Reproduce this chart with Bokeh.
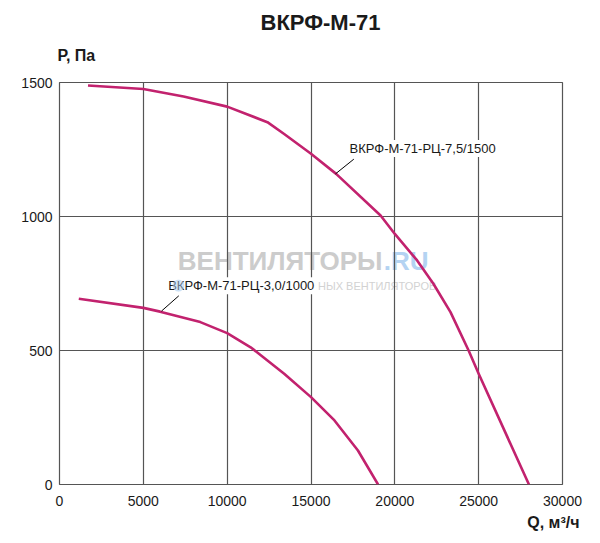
from bokeh.plotting import figure
from bokeh.models import Range1d, Label, FixedTicker, Title
from bokeh.embed import file_html
from bokeh.resources import INLINE

# ---- data ----
title_text = "ВКРФ-М-71"
y_title = "Р, Па"
x_title = "Q, м³/ч"

x_ticks = [0, 5000, 10000, 15000, 20000, 25000, 30000]
y_ticks = [0, 500, 1000, 1500]

big_name = "ВКРФ-М-71-РЦ-7,5/1500"
big_q = [1700, 5000, 7400, 10000, 12400, 13400, 15000, 16500, 19150, 20000, 21330, 22300, 23320, 24400, 25000, 28000]
big_p = [1489, 1476, 1448, 1410, 1352, 1308, 1234, 1159, 1004, 935, 836, 749, 643, 500, 413, 0]

small_name = "ВКРФ-М-71-РЦ-3,0/1000"
small_q = [1150, 5000, 6000, 8400, 10000, 11400, 13400, 15000, 16400, 17800, 19000]
small_p = [693, 659, 645, 606, 565, 512, 413, 326, 239, 127, 0]

# leader lines from curve to label
big_leader_q = [16460, 17555]
big_leader_p = [1159, 1214]
small_leader_q = [6083, 7115]
small_leader_p = [647, 704]

FONT = "Liberation Sans"
CURVE = "#c2226e"
GRID = "#555555"
TXT = "#1a1a1a"

p = figure(width=600, height=543, output_backend="svg", toolbar_location=None,
           x_range=Range1d(0, 30000), y_range=Range1d(0, 1500),
           min_border_left=59, min_border_right=38, min_border_top=82, min_border_bottom=59,
           background_fill_color="white", border_fill_color="white")

for ax, ticks in ((p.xaxis, x_ticks), (p.yaxis, y_ticks)):
    ax.ticker = FixedTicker(ticks=ticks)
    ax.major_tick_in = 0
    ax.major_tick_out = 0
    ax.minor_tick_line_color = None
    ax.axis_line_color = None
    ax.major_label_text_font = FONT
    ax.major_label_text_font_size = "14px"
    ax.major_label_text_color = TXT
p.yaxis.major_label_standoff = 7
p.xaxis.major_label_standoff = 11

p.xgrid.ticker = FixedTicker(ticks=x_ticks)
p.ygrid.ticker = FixedTicker(ticks=y_ticks)
for g in (p.xgrid, p.ygrid):
    g.grid_line_color = GRID
    g.grid_line_width = 1.2
p.outline_line_color = GRID
p.outline_line_width = 1.2
p.outline_line_alpha = 1

# watermark (behind grid)
p.add_layout(Label(x=22007 - 46 * 59.64, y=834, text="ВЕНТИЛЯТОРЫ", text_align="right",
                   text_baseline="middle", text_font=FONT, text_font_style="bold",
                   text_font_size="26px", text_color="#cccccc", level="image"))
p.add_layout(Label(x=22007, y=834, text=".RU", text_align="right",
                   text_baseline="middle", text_font=FONT, text_font_style="bold",
                   text_font_size="26px", text_color="#b4d3f2", level="image"))
p.add_layout(Label(x=15420, y=742, text="НЫХ ВЕНТИЛЯТОРОВ", text_align="left",
                   text_baseline="middle", text_font=FONT,
                   text_font_size="11px", text_color="#d2d2d2", level="image"))

# curves
p.line(big_q, big_p, line_color=CURVE, line_width=2.6, line_join="round")
p.line(small_q, small_p, line_color=CURVE, line_width=2.6, line_join="round")
p.line(big_leader_q, big_leader_p, line_color="black", line_width=1)
p.line(small_leader_q, small_leader_p, line_color="black", line_width=1)

# curve labels
p.add_layout(Label(x=17236, y=1254, text=big_name, text_align="left", text_baseline="middle",
                   text_font=FONT, text_font_size="13px", text_color=TXT,
                   background_fill_color="white", padding=1))
p.add_layout(Label(x=6423, y=742, text=small_name, text_align="left", text_baseline="middle",
                   text_font=FONT, text_font_size="13px", text_color=TXT,
                   background_fill_color="white", padding=1))

# watermark dot
p.scatter([7097], [742], size=11, color="#a9cdf0", alpha=0.5, level="overlay")

# titles (side panels)
p.add_layout(Title(text=y_title, align="left", offset=-2, standoff=38,
                   text_font=FONT, text_font_style="bold", text_font_size="16px",
                   text_color=TXT), "above")
p.add_layout(Title(text=title_text, align="left", offset=201, standoff=-18,
                   text_font=FONT, text_font_style="bold", text_font_size="22px",
                   text_color=TXT), "above")
p.add_layout(Title(text=x_title, align="right", offset=-17, standoff=6,
                   text_font=FONT, text_font_style="bold", text_font_size="16px",
                   text_color=TXT), "below")

open("out.html", "w").write(file_html(p, INLINE))
